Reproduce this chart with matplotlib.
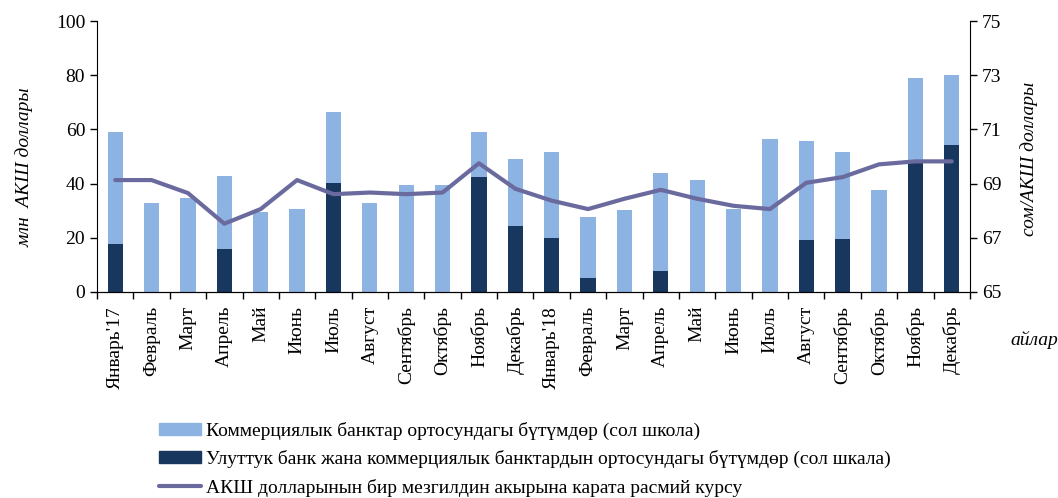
import matplotlib
matplotlib.use('Agg')
import matplotlib.pyplot as plt
from matplotlib.patches import Patch
from matplotlib.lines import Line2D
import numpy as np

months = ["Январь'17", 'Февраль', 'Март', 'Апрель', 'Май', 'Июнь', 'Июль', 'Август',
          'Сентябрь', 'Октябрь', 'Ноябрь', 'Декабрь',
          "Январь'18", 'Февраль', 'Март', 'Апрель', 'Май', 'Июнь', 'Июль', 'Август',
          'Сентябрь', 'Октябрь', 'Ноябрь', 'Декабрь']

# deals between National bank and commercial banks (dark)
nbkr = [17.7, 0, 0, 15.8, 0, 0, 40.2, 0, 0, 0, 42.6, 24.4,
        20.1, 5.3, 0, 7.6, 0, 0, 0, 19.0, 19.7, 0, 48.5, 54.1]
# interbank deals (light), stacked on top
interbank = [41.3, 32.8, 34.5, 27.0, 29.6, 30.8, 26.3, 32.8, 39.6, 39.6, 16.4, 24.5,
             31.4, 22.5, 30.2, 36.4, 41.5, 30.8, 56.5, 36.8, 31.8, 37.7, 30.5, 26.1]
# official USD rate, end of period
usd_rate = [69.13, 69.13, 68.65, 67.52, 68.06, 69.13, 68.61, 68.67, 68.61, 68.67, 69.75, 68.81,
            68.37, 68.06, 68.44, 68.77, 68.44, 68.18, 68.06, 69.03, 69.24, 69.71, 69.82, 69.82]

lbl_light = 'Коммерциялык банктар ортосундагы бүтүмдөр (сол школа)'
lbl_dark = 'Улуттук банк жана коммерциялык банктардын ортосундагы бүтүмдөр (сол шкала)'
lbl_line = 'АКШ долларынын бир мезгилдин акырына карата расмий курсу'

c_light = '#8DB3E2'
c_dark = '#17375E'
c_line = '#6A6A9E'

plt.rcParams['font.family'] = ['Liberation Serif', 'DejaVu Serif']
plt.rcParams['font.size'] = 14

fig = plt.figure(figsize=(10.58, 4.98), dpi=100)
ax = fig.add_axes([0.0917, 0.4137, 0.8251, 0.5441])
x = np.arange(len(months))

ax.bar(x, nbkr, width=0.42, color=c_dark, zorder=2)
ax.bar(x, interbank, width=0.42, bottom=nbkr, color=c_light, zorder=2)

ax.set_xlim(-0.5, len(months) - 0.5)
ax.set_ylim(0, 100)
ax.set_yticks([0, 20, 40, 60, 80, 100])
ax.set_xticks(x)
ax.set_xticklabels(months, rotation=90)
ax.set_xticks(np.arange(-0.5, len(months)), minor=True)
ax.tick_params(axis='x', which='major', length=0, pad=10)
ax.tick_params(axis='x', which='minor', length=5, direction='out', width=1)
ax.tick_params(axis='y', length=5, direction='out', width=1)
ax.spines['top'].set_visible(False)
ax.spines['right'].set_visible(False)
ax.set_ylabel('млн  АКШ доллары', style='italic')
ax.yaxis.set_label_coords(-0.073, 0.46)

ax2 = ax.twinx()
ax2.plot(x, usd_rate, color=c_line, lw=3, solid_capstyle='round', zorder=3)
ax2.set_ylim(65, 75)
ax2.set_yticks([65, 67, 69, 71, 73, 75])
ax2.tick_params(axis='y', length=5, direction='out', width=1)
ax2.spines['top'].set_visible(False)
ax2.spines['left'].set_visible(False)
ax2.set_ylabel('сом/АКШ доллары', style='italic', rotation=90)
ax2.yaxis.set_label_coords(1.058, 0.49)

fig.text(1010 / 1058, 0.317, 'айлар', style='italic', ha='left', va='center')

handles = [Patch(color=c_light), Patch(color=c_dark),
           Line2D([0], [0], color=c_line, lw=3, solid_capstyle='round')]
fig.legend(handles, [lbl_light, lbl_dark, lbl_line], loc='upper left',
           bbox_to_anchor=(0.150, 0.153), frameon=False,
           handlelength=2.2, handleheight=0.55, handletextpad=0.25,
           labelspacing=0.53, borderaxespad=0, borderpad=0)

fig.savefig('out.png', dpi=100)
